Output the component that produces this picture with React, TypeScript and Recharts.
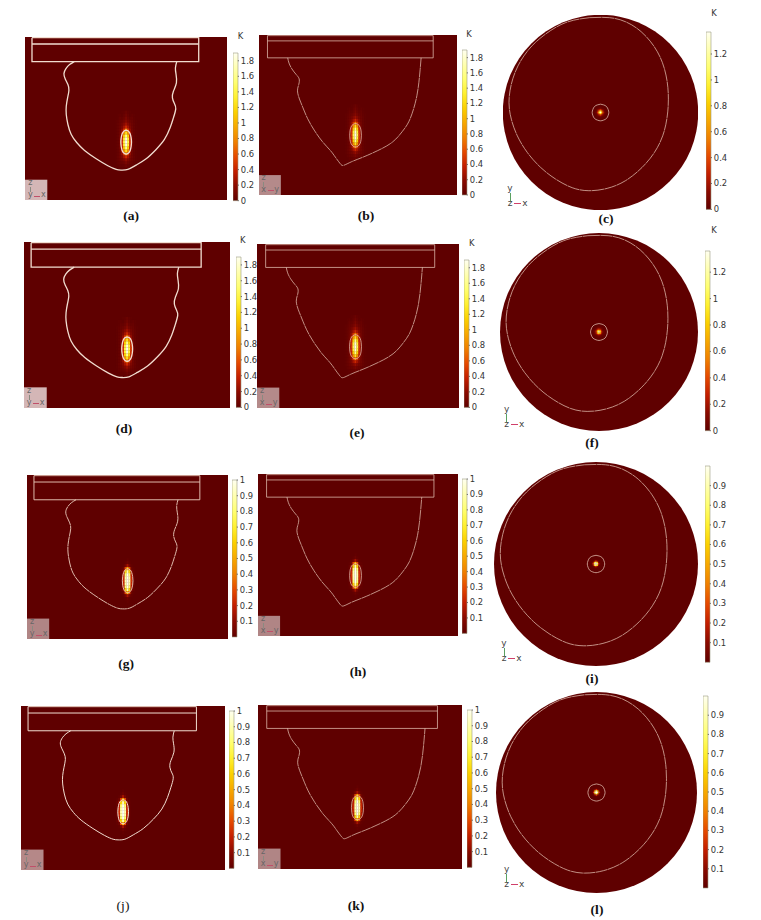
import { Bar, BarChart, ReferenceArea, ReferenceDot, Scatter, ScatterChart, XAxis, YAxis } from 'recharts';

// outlines, in 1/3 px of the panel (a) grid
const SIDE_W = 607;
const SIDE_H = 490;
const DISC_R = 293;

const slabXz = [{ x: 21, y: 2 }, { x: 522, y: 2 }, { x: 522, y: 74 }, { x: 21, y: 74 }, { x: 21, y: 2 }];
const slabXzMid = [{ x: 21, y: 21 }, { x: 522, y: 21 }];
const meltXz = [
  [148, 74], [134, 83], [123, 95], [117, 110], [121, 126], [129, 143], [132, 160], [128, 183], [124, 208], [124, 233],
  [129, 263], [139, 293], [156, 318], [179, 341], [214, 366], [249, 387], [274, 398], [289, 400], [309, 398], [334, 385],
  [364, 366], [394, 338], [419, 308], [436, 273], [446, 243], [453, 216], [449, 200], [443, 183], [446, 163], [455, 138],
  [454, 113], [452, 93], [456, 74],
];
const ringXz = [
  [304, 280], [311, 283], [316, 291], [319, 303], [320, 316], [319, 329], [316, 341], [311, 349], [304, 352],
  [297, 349], [292, 341], [289, 329], [288, 316], [289, 303], [292, 291], [297, 283], [304, 280],
];

const slabYz = [{ x: 26, y: 2 }, { x: 534, y: 2 }, { x: 534, y: 70 }, { x: 26, y: 70 }, { x: 26, y: 2 }];
const slabYzMid = [{ x: 26, y: 18 }, { x: 534, y: 18 }];
const meltYz = [
  [88, 70], [92, 86], [101, 104], [114, 121], [123, 134], [122, 151], [118, 171], [124, 196], [134, 221], [149, 256],
  [169, 291], [194, 326], [219, 354], [234, 374], [249, 394], [260, 399], [284, 388], [319, 374], [364, 354], [409, 328],
  [439, 296], [459, 266], [474, 226], [484, 186], [490, 146], [494, 106], [497, 70],
];
const ringYz = [
  [296, 271], [304, 274], [310, 282], [313, 294], [314, 307], [313, 320], [310, 332], [304, 340], [296, 343],
  [288, 340], [282, 332], [279, 320], [278, 307], [279, 294], [282, 282], [288, 274], [296, 271],
];

const meltTop = [
  [-33, -285], [27, -285], [77, -272], [122, -243], [160, -200], [186, -150], [200, -95], [204, -40], [200, 15], [187, 70],
  [162, 120], [125, 165], [75, 205], [20, 228], [-35, 235], [-85, 226], [-135, 200], [-180, 165], [-220, 120], [-250, 70],
  [-268, 20], [-275, -30], [-268, -85], [-248, -140], [-215, -190], [-170, -232], [-105, -270], [-33, -285],
];
const ringTop = [
  [0, -25], [9, -23], [18, -18], [23, -9], [25, 0], [23, 9], [18, 18], [9, 23], [0, 25],
  [-9, 23], [-18, 18], [-23, 9], [-25, 0], [-23, -9], [-18, -18], [-9, -23], [0, -25],
];

// temperature around the heat source, K
const sideCols = [-36, -30, -24, -18, -12, -6, 0, 6, 12, 18, 24, 30, 36];
const sideRows = [-90, -81, -72, -63, -54, -45, -36, -27, -18, -9, 0, 9, 18, 27, 36, 45, 54, 63, 72, 81, 90];
const sideHot = [
  [0, 0, 0, 0, 0.01, 0.02, 0.05, 0.02, 0.01, 0, 0, 0, 0],
  [0, 0, 0.01, 0.02, 0.01, 0.04, 0.08, 0.04, 0.01, 0.02, 0.01, 0, 0],
  [0, 0, 0.01, 0.04, 0.03, 0.06, 0.12, 0.06, 0.03, 0.04, 0.01, 0, 0],
  [0, 0.01, 0.02, 0.05, 0.06, 0.1, 0.17, 0.1, 0.06, 0.05, 0.02, 0.01, 0],
  [0, 0.01, 0.03, 0.06, 0.1, 0.18, 0.26, 0.18, 0.1, 0.06, 0.03, 0.01, 0],
  [0, 0.01, 0.03, 0.07, 0.14, 0.28, 0.42, 0.28, 0.14, 0.07, 0.03, 0.01, 0],
  [0, 0.01, 0.03, 0.08, 0.22, 0.5, 0.8, 0.5, 0.22, 0.08, 0.03, 0.01, 0],
  [0, 0.01, 0.03, 0.09, 0.32, 0.85, 1.25, 0.85, 0.32, 0.09, 0.03, 0.01, 0],
  [0, 0.01, 0.03, 0.1, 0.4, 1.15, 1.6, 1.15, 0.4, 0.1, 0.03, 0.01, 0],
  [0, 0.01, 0.03, 0.1, 0.45, 1.35, 1.82, 1.35, 0.45, 0.1, 0.03, 0.01, 0],
  [0, 0.01, 0.03, 0.1, 0.48, 1.42, 1.88, 1.42, 0.48, 0.1, 0.03, 0.01, 0],
  [0, 0.01, 0.03, 0.1, 0.45, 1.35, 1.82, 1.35, 0.45, 0.1, 0.03, 0.01, 0],
  [0, 0.01, 0.03, 0.1, 0.4, 1.15, 1.6, 1.15, 0.4, 0.1, 0.03, 0.01, 0],
  [0, 0.01, 0.03, 0.09, 0.32, 0.85, 1.25, 0.85, 0.32, 0.09, 0.03, 0.01, 0],
  [0, 0.01, 0.03, 0.08, 0.22, 0.5, 0.8, 0.5, 0.22, 0.08, 0.03, 0.01, 0],
  [0, 0.01, 0.04, 0.08, 0.14, 0.28, 0.42, 0.28, 0.14, 0.08, 0.04, 0.01, 0],
  [0, 0.01, 0.03, 0.06, 0.09, 0.14, 0.22, 0.14, 0.09, 0.06, 0.03, 0.01, 0],
  [0, 0, 0.02, 0.04, 0.05, 0.07, 0.12, 0.07, 0.05, 0.04, 0.02, 0, 0],
  [0, 0, 0, 0.02, 0.02, 0.03, 0.06, 0.03, 0.02, 0.02, 0, 0, 0],
  [0, 0, 0, 0, 0, 0.01, 0.03, 0.01, 0, 0, 0, 0, 0],
  [0, 0, 0, 0, 0, 0, 0.01, 0, 0, 0, 0, 0, 0],
];
const sideSharp = [
  [0, 0, 0, 0, 0, 0, 0, 0, 0, 0, 0, 0, 0],
  [0, 0, 0, 0, 0, 0, 0, 0, 0, 0, 0, 0, 0],
  [0, 0, 0, 0, 0, 0, 0, 0, 0, 0, 0, 0, 0],
  [0, 0, 0, 0, 0, 0, 0.01, 0, 0, 0, 0, 0, 0],
  [0, 0, 0, 0, 0, 0.01, 0.03, 0.01, 0, 0, 0, 0, 0],
  [0, 0, 0, 0, 0.01, 0.05, 0.15, 0.05, 0.01, 0, 0, 0, 0],
  [0, 0, 0, 0.01, 0.04, 0.3, 0.55, 0.3, 0.04, 0.01, 0, 0, 0],
  [0, 0, 0, 0.02, 0.12, 0.62, 0.9, 0.62, 0.12, 0.02, 0, 0, 0],
  [0, 0, 0, 0.02, 0.18, 0.8, 1, 0.8, 0.18, 0.02, 0, 0, 0],
  [0, 0, 0, 0.03, 0.22, 0.88, 1, 0.88, 0.22, 0.03, 0, 0, 0],
  [0, 0, 0, 0.03, 0.24, 0.9, 1, 0.9, 0.24, 0.03, 0, 0, 0],
  [0, 0, 0, 0.03, 0.22, 0.88, 1, 0.88, 0.22, 0.03, 0, 0, 0],
  [0, 0, 0, 0.02, 0.18, 0.8, 1, 0.8, 0.18, 0.02, 0, 0, 0],
  [0, 0, 0, 0.02, 0.12, 0.62, 0.9, 0.62, 0.12, 0.02, 0, 0, 0],
  [0, 0, 0, 0.01, 0.04, 0.3, 0.55, 0.3, 0.04, 0.01, 0, 0, 0],
  [0, 0, 0, 0, 0.01, 0.05, 0.15, 0.05, 0.01, 0, 0, 0, 0],
  [0, 0, 0, 0, 0, 0.01, 0.03, 0.01, 0, 0, 0, 0, 0],
  [0, 0, 0, 0, 0, 0, 0.01, 0, 0, 0, 0, 0, 0],
  [0, 0, 0, 0, 0, 0, 0, 0, 0, 0, 0, 0, 0],
  [0, 0, 0, 0, 0, 0, 0, 0, 0, 0, 0, 0, 0],
  [0, 0, 0, 0, 0, 0, 0, 0, 0, 0, 0, 0, 0],
];

const topAxis = [-16, -12, -8, -4, 0, 4, 8, 12, 16];
const topHot = [
  [0, 0, 0.01, 0.02, 0.03, 0.02, 0.01, 0, 0],
  [0, 0.01, 0.03, 0.06, 0.09, 0.06, 0.03, 0.01, 0],
  [0.01, 0.03, 0.1, 0.22, 0.34, 0.22, 0.1, 0.03, 0.01],
  [0.02, 0.06, 0.22, 0.6, 0.95, 0.6, 0.22, 0.06, 0.02],
  [0.03, 0.09, 0.34, 0.95, 1.36, 0.95, 0.34, 0.09, 0.03],
  [0.02, 0.06, 0.22, 0.6, 0.95, 0.6, 0.22, 0.06, 0.02],
  [0.01, 0.03, 0.1, 0.22, 0.34, 0.22, 0.1, 0.03, 0.01],
  [0, 0.01, 0.03, 0.06, 0.09, 0.06, 0.03, 0.01, 0],
  [0, 0, 0.01, 0.02, 0.03, 0.02, 0.01, 0, 0],
];
const topSharp = [
  [0, 0, 0, 0, 0, 0, 0, 0, 0],
  [0, 0, 0, 0.01, 0.02, 0.01, 0, 0, 0],
  [0, 0, 0.02, 0.1, 0.25, 0.1, 0.02, 0, 0],
  [0, 0.01, 0.1, 0.6, 0.9, 0.6, 0.1, 0.01, 0],
  [0, 0.02, 0.25, 0.9, 1, 0.9, 0.25, 0.02, 0],
  [0, 0.01, 0.1, 0.6, 0.9, 0.6, 0.1, 0.01, 0],
  [0, 0, 0.02, 0.1, 0.25, 0.1, 0.02, 0, 0],
  [0, 0, 0, 0.01, 0.02, 0.01, 0, 0, 0],
  [0, 0, 0, 0, 0, 0, 0, 0, 0],
];

// colour bars
const ticksSide = [0, 0.2, 0.4, 0.6, 0.8, 1, 1.2, 1.4, 1.6, 1.8];
const ticksTop = [0, 0.2, 0.4, 0.6, 0.8, 1, 1.2];
const ticksUnit = [0.1, 0.2, 0.3, 0.4, 0.5, 0.6, 0.7, 0.8, 0.9, 1];
const ticksUnitTop = [0.1, 0.2, 0.3, 0.4, 0.5, 0.6, 0.7, 0.8, 0.9];

const heatStops = [
  '#5f0000', '#8a0a00', '#c41e00', '#e64a00', '#f08000', '#f7a800',
  '#fbd000', '#fff030', '#ffff70', '#ffffb0', '#fffff0',
];

const BG = '#5f0000';
const LINE = '#f2ddd0';
const LINE_THIN = '#eccdbd';
const TEXT = '#333333';

const sidePanels = [
  { id: 'a', view: 'xz', left: 25.3, top: 37.3, w: 202.3, h: 163.4, field: 'hot', lw: 1.3, box: '#d4b6b6', max: 1.9, ticks: ticksSide, barL: 233, barT: 53.3, barB: 201, k: [240.5, 35.7], cap: [131, 216] },
  { id: 'b', view: 'yz', left: 258.7, top: 34.7, w: 197.7, h: 160, field: 'hot', lw: 0.7, box: '#b48a8a', max: 1.9, ticks: ticksSide, barL: 462.3, barT: 50, barB: 195, k: [469, 34], cap: [366, 216] },
  { id: 'd', view: 'xz', left: 24, top: 241.7, w: 206, h: 166, field: 'hot', lw: 1.3, box: '#d4b6b6', max: 1.9, ticks: ticksSide, barL: 236, barT: 257.3, barB: 407.7, k: [242.7, 240], cap: [124, 429] },
  { id: 'e', view: 'yz', left: 257, top: 244, w: 202, h: 163.7, field: 'hot', lw: 0.7, box: '#b48a8a', max: 1.9, ticks: ticksSide, barL: 464.3, barT: 260.3, barB: 407.7, k: [471.7, 243], cap: [357, 433] },
  { id: 'g', view: 'xz', left: 27, top: 475, w: 201, h: 163.7, field: 'sharp', lw: 0.9, box: '#b08585', max: 1, ticks: ticksUnit, barL: 232.3, barT: 480, barB: 637, cap: [126, 664] },
  { id: 'h', view: 'yz', left: 258, top: 473.7, w: 200, h: 161.7, field: 'sharp', lw: 0.7, box: '#b08585', max: 1, ticks: ticksUnit, barL: 462.3, barT: 479.3, barB: 633.7, cap: [358, 672] },
  { id: 'j', view: 'xz', left: 21, top: 706, w: 204, h: 164.3, field: 'sharp', lw: 1, box: '#b58888', max: 1, ticks: ticksUnit, barL: 229.3, barT: 711.3, barB: 868.7, cap: [123, 906], thin: true },
  { id: 'k', view: 'yz', left: 258, top: 705, w: 203.7, h: 164.3, field: 'sharp', lw: 0.7, box: '#b08585', max: 1, ticks: ticksUnit, barL: 466.7, barT: 710.3, barB: 867.7, cap: [356, 906] },
];

const discPanels = [
  { id: 'c', cx: 601, cy: 112.3, r: 97.7, field: 'hot', max: 1.37, ticks: ticksTop, barL: 706, barT: 32.3, barB: 209.7, k: [714, 12.5], cap: [606, 219], triad: [510, 203] },
  { id: 'f', cx: 598.5, cy: 332, r: 99, field: 'hot', max: 1.36, ticks: ticksTop, barL: 705.3, barT: 251.3, barB: 431, k: [714, 230], cap: [592, 443], triad: [506.7, 424] },
  { id: 'i', cx: 595.5, cy: 563.8, r: 102, field: 'sharp', max: 1, ticks: ticksUnitTop, barL: 705.3, barT: 465.7, barB: 662, cap: [592, 679], triad: [504, 658] },
  { id: 'l', cx: 596, cy: 792, r: 100.5, field: 'sharp', max: 1, ticks: ticksUnitTop, barL: 703.3, barT: 696, barB: 888, cap: [597, 910], triad: [506.7, 884] },
];

const toPoints = (pairs: number[][]) => pairs.map(([x, y]) => ({ x, y }));

function heat(frac: number) {
  const f = Math.max(0, Math.min(1, frac)) * (heatStops.length - 1);
  const i = Math.min(Math.floor(f), heatStops.length - 2);
  const t = f - i;
  const a = parseInt(heatStops[i].slice(1), 16);
  const b = parseInt(heatStops[i + 1].slice(1), 16);
  const mix = (shift: number) => Math.round(((a >> shift) & 255) * (1 - t) + ((b >> shift) & 255) * t);
  return `rgb(${mix(16)},${mix(8)},${mix(0)})`;
}

function fieldCells(matrix: number[][], xs: number[], ys: number[], x0: number, y0: number) {
  const cells: { x: number; y: number; t: number }[] = [];
  matrix.forEach((row, r) =>
    row.forEach((t, c) => {
      if (t > 0) cells.push({ x: x0 + xs[c], y: y0 + ys[r], t });
    })
  );
  return cells;
}

function Txt({ x, y, size = 8.4, children, font = 'DejaVu Sans', color = TEXT, weight = 400 }: any) {
  return (
    <span
      style={{
        position: 'absolute',
        left: x,
        top: y,
        transform: 'translate(-50%, -50%)',
        fontFamily: font,
        fontSize: size,
        color,
        fontWeight: weight,
        lineHeight: 1,
        whiteSpace: 'nowrap',
      }}
    >
      {children}
    </span>
  );
}

function Caption({ at, id, thin }: any) {
  return (
    <Txt x={at[0]} y={at[1]} size={13.5} font="Liberation Serif" color="#111" weight={thin ? 400 : 700}>
      ({id})
    </Txt>
  );
}

function ColorBar({ id, max, ticks, barL, barT, barB }: any) {
  const pad = 10;
  const barW = 4.8;
  const axisW = 26;
  const gradId = `bar-${id}`;
  return (
    <div style={{ position: 'absolute', left: barL, top: barT - pad }}>
      <BarChart
        width={barW + axisW}
        height={barB - barT + pad * 2}
        data={[{ name: 'K', value: max }]}
        margin={{ top: pad, bottom: pad, left: 0, right: 0 }}
        barCategoryGap={0}
      >
        <defs>
          <linearGradient id={gradId} x1="0" y1="1" x2="0" y2="0">
            {heatStops.map((c, i) => (
              <stop key={c} offset={i / (heatStops.length - 1)} stopColor={c} />
            ))}
          </linearGradient>
        </defs>
        <XAxis dataKey="name" hide />
        <YAxis
          orientation="right"
          width={axisW}
          type="number"
          domain={[0, max]}
          ticks={ticks}
          interval={0}
          axisLine={false}
          tickSize={1}
          tickMargin={2}
          tickLine={{ stroke: '#555' }}
          tick={{ fontSize: 8.4, fill: TEXT, fontFamily: 'DejaVu Sans', textAnchor: 'start' }}
          tickFormatter={(v: number) => String(v)}
        />
        <Bar dataKey="value" fill={`url(#${gradId})`} stroke="#9a9a80" strokeWidth={0.6} isAnimationActive={false} />
      </BarChart>
    </div>
  );
}

const noMark = () => <g />;

function SidePanel({ p }: any) {
  const isXz = p.view === 'xz';
  const slab = isXz ? slabXz : slabYz;
  const slabMid = isXz ? slabXzMid : slabYzMid;
  const melt = toPoints(isXz ? meltXz : meltYz);
  const ring = toPoints(isXz ? ringXz : ringYz);
  const cells = fieldCells(p.field === 'hot' ? sideHot : sideSharp, sideCols, sideRows, isXz ? 304 : 296, isXz ? 316 : 307);
  const cellW = (6 / SIDE_W) * p.w + 0.2;
  const cellH = (9 / SIDE_H) * p.h + 0.2;
  const w = Math.round(p.w);
  const h = Math.round(p.h);
  const axes = (
    <>
      <XAxis type="number" dataKey="x" domain={[0, SIDE_W]} hide />
      <YAxis type="number" dataKey="y" domain={[0, SIDE_H]} reversed hide width={0} />
    </>
  );
  const margin = { top: 0, right: 0, bottom: 0, left: 0 };
  const solid = { stroke: p.lw < 1 ? LINE_THIN : LINE, strokeWidth: p.lw };
  const meltStyle = p.lw < 1 ? { ...solid, strokeDasharray: '10 0.5' } : solid;
  const [a, b] = isXz ? ['y', 'x'] : ['x', 'y'];
  return (
    <div style={{ position: 'absolute', left: p.left, top: p.top, width: w, height: h }}>
      <div style={{ position: 'absolute', left: 0, top: 0, filter: 'blur(0.6px)' }}>
        <ScatterChart width={w} height={h} margin={margin}>
          {axes}
          <ReferenceArea x1={0} x2={SIDE_W} y1={0} y2={SIDE_H} fill={BG} fillOpacity={1} stroke="none" />
          <Scatter
            data={cells}
            isAnimationActive={false}
            shape={(s: any) => (
              <rect x={s.cx - cellW / 2} y={s.cy - cellH / 2} width={cellW} height={cellH} fill={heat(s.payload.t / p.max)} />
            )}
          />
        </ScatterChart>
      </div>
      <div style={{ position: 'absolute', left: 0, top: 0, filter: 'blur(0.25px)' }}>
        <ScatterChart width={w} height={h} margin={margin}>
          {axes}
          <ReferenceArea x1={0} x2={67} y1={429} y2={SIDE_H} fill={p.box} fillOpacity={1} stroke="none" />
          <Scatter data={slab} line={solid} lineType="joint" shape={noMark} isAnimationActive={false} />
          <Scatter data={slabMid} line={solid} lineType="joint" shape={noMark} isAnimationActive={false} />
          <Scatter data={melt} line={meltStyle} lineType="joint" lineJointType="natural" shape={noMark} isAnimationActive={false} />
          <Scatter data={ring} line={solid} lineType="joint" lineJointType="natural" shape={noMark} isAnimationActive={false} />
        </ScatterChart>
      </div>
      <Txt x={5} y={h - 17} size={8} color="#666">z</Txt>
      <div style={{ position: 'absolute', left: 4.6, top: h - 13, width: 0.8, height: 5, background: '#8a8a80' }} />
      <Txt x={5} y={h - 5} size={8} color="#666">{a}</Txt>
      <div style={{ position: 'absolute', left: 9, top: h - 4.5, width: 6, height: 0.9, background: '#c0506a' }} />
      <Txt x={18} y={h - 5} size={8} color="#666">{b}</Txt>
    </div>
  );
}

function DiscPanel({ p }: any) {
  const size = Math.round(p.r * 2);
  const cells = fieldCells(p.field === 'hot' ? topHot : topSharp, topAxis, topAxis, 0, 0);
  const cell = (4 / (DISC_R * 2)) * size + 0.2;
  const axes = (
    <>
      <XAxis type="number" dataKey="x" domain={[-DISC_R, DISC_R]} hide />
      <YAxis type="number" dataKey="y" domain={[-DISC_R, DISC_R]} reversed hide width={0} />
    </>
  );
  const margin = { top: 0, right: 0, bottom: 0, left: 0 };
  const ringStyle = { stroke: LINE_THIN, strokeWidth: 0.7 };
  const meltStyle = { ...ringStyle, strokeDasharray: '12 0.5' };
  return (
    <div style={{ position: 'absolute', left: p.cx - p.r, top: p.cy - p.r, width: size, height: size }}>
      <div style={{ position: 'absolute', left: 0, top: 0, filter: 'blur(0.4px)' }}>
        <ScatterChart width={size} height={size} margin={margin}>
          {axes}
          <ReferenceDot x={0} y={0} r={p.r} fill={BG} stroke="none" />
          <Scatter
            data={cells}
            isAnimationActive={false}
            shape={(s: any) => (
              <rect x={s.cx - cell / 2} y={s.cy - cell / 2} width={cell} height={cell} fill={heat(s.payload.t / p.max)} />
            )}
          />
        </ScatterChart>
      </div>
      <div style={{ position: 'absolute', left: 0, top: 0, filter: 'blur(0.2px)' }}>
        <ScatterChart width={size} height={size} margin={margin}>
          {axes}
          <Scatter data={toPoints(meltTop)} line={meltStyle} lineType="joint" lineJointType="natural" shape={noMark} isAnimationActive={false} />
          <Scatter data={toPoints(ringTop)} line={ringStyle} lineType="joint" lineJointType="natural" shape={noMark} isAnimationActive={false} />
        </ScatterChart>
      </div>
    </div>
  );
}

function DiscTriad({ at }: any) {
  const [x, y] = at;
  return (
    <>
      <Txt x={x} y={y - 15} size={9} color="#444">y</Txt>
      <div style={{ position: 'absolute', left: x - 0.4, top: y - 10, width: 0.9, height: 8, background: '#5aa060' }} />
      <Txt x={x} y={y} size={9} color="#444">z</Txt>
      <div style={{ position: 'absolute', left: x + 4, top: y - 0.4, width: 7, height: 0.9, background: '#d0406a' }} />
      <Txt x={x + 15} y={y} size={9} color="#444">x</Txt>
    </>
  );
}

export default function App() {
  return (
    <div style={{ position: 'absolute', left: 0, top: 0, width: 761, height: 920, background: '#fff', overflow: 'hidden' }}>
      {sidePanels.map((p) => (
        <div key={p.id}>
          <SidePanel p={p} />
          <ColorBar {...p} />
          {p.k && <Txt x={p.k[0]} y={p.k[1]}>K</Txt>}
          <Caption at={p.cap} id={p.id} thin={p.thin} />
        </div>
      ))}
      {discPanels.map((p) => (
        <div key={p.id}>
          <DiscPanel p={p} />
          <ColorBar {...p} />
          <DiscTriad at={p.triad} />
          {p.k && <Txt x={p.k[0]} y={p.k[1]}>K</Txt>}
          <Caption at={p.cap} id={p.id} />
        </div>
      ))}
    </div>
  );
}
